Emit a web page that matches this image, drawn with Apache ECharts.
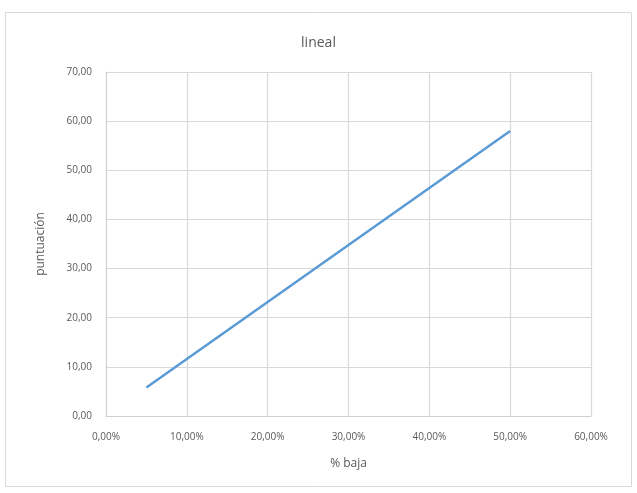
<!DOCTYPE html>
<html>
<head>
<meta charset="utf-8">
<script src="https://cdn.jsdelivr.net/npm/echarts@6/dist/echarts.min.js"></script>
<style>
html,body{margin:0;padding:0;background:#fff;}
#c{width:637px;height:493px;}
</style>
</head>
<body>
<div id="c"></div>
<script>
var titleText = 'lineal';
var xName = '% baja';
var yName = 'puntuación';
var bajaPct = [5, 10, 15, 20, 25, 30, 35, 40, 45, 50];
var puntuacion = [5.8, 11.6, 17.4, 23.2, 29.0, 34.8, 40.6, 46.4, 52.2, 58.0];

var data = bajaPct.map(function (x, i) { return [x, puntuacion[i]]; });
var fmt2 = function (v) { return v.toFixed(2).replace('.', ','); };
var font = '"Open Sans", "Noto Sans", sans-serif';
var chart = echarts.init(document.getElementById('c'), null, {renderer: 'canvas'});
chart.setOption({
  animation: false,
  backgroundColor: '#fff',
  graphic: [{
    type: 'rect',
    shape: {x: 5.5, y: 12.5, width: 626, height: 474},
    style: {fill: 'none', stroke: '#d9d9d9', lineWidth: 1},
    silent: true, z: -1
  }],
  title: {
    text: titleText, left: 'center', top: 31,
    textStyle: {fontFamily: font, fontSize: 14, fontWeight: 'normal', color: '#595959'}
  },
  grid: {left: 106, right: 46, top: 72, bottom: 77, containLabel: false},
  xAxis: {
    type: 'value', min: 0, max: 60, interval: 10,
    name: xName, nameLocation: 'middle', nameGap: 42,
    nameTextStyle: {fontFamily: font, fontSize: 12, color: '#595959'},
    axisLine: {show: true, lineStyle: {color: '#d0d0d0'}},
    axisTick: {show: false},
    axisLabel: {fontFamily: font, fontSize: 10, color: '#595959', margin: 16,
      formatter: function (v) { return fmt2(v) + '%'; }},
    splitLine: {show: true, lineStyle: {color: '#d9d9d9', width: 1.2}}
  },
  yAxis: {
    type: 'value', min: 0, max: 70, interval: 10,
    name: yName, nameLocation: 'middle', nameGap: 59, nameRotate: 90,
    nameTextStyle: {fontFamily: font, fontSize: 12, color: '#595959'},
    axisLine: {show: true, lineStyle: {color: '#d0d0d0'}},
    axisTick: {show: false},
    axisLabel: {fontFamily: font, fontSize: 10, color: '#595959', margin: 14,
      formatter: function (v) { return fmt2(v); }},
    splitLine: {show: true, lineStyle: {color: '#d9d9d9', width: 1.2}}
  },
  series: [{
    type: 'line', data: data, showSymbol: false, symbol: 'none',
    lineStyle: {color: '#5b9bd5', width: 2.5}
  }]
});
</script>
</body>
</html>
